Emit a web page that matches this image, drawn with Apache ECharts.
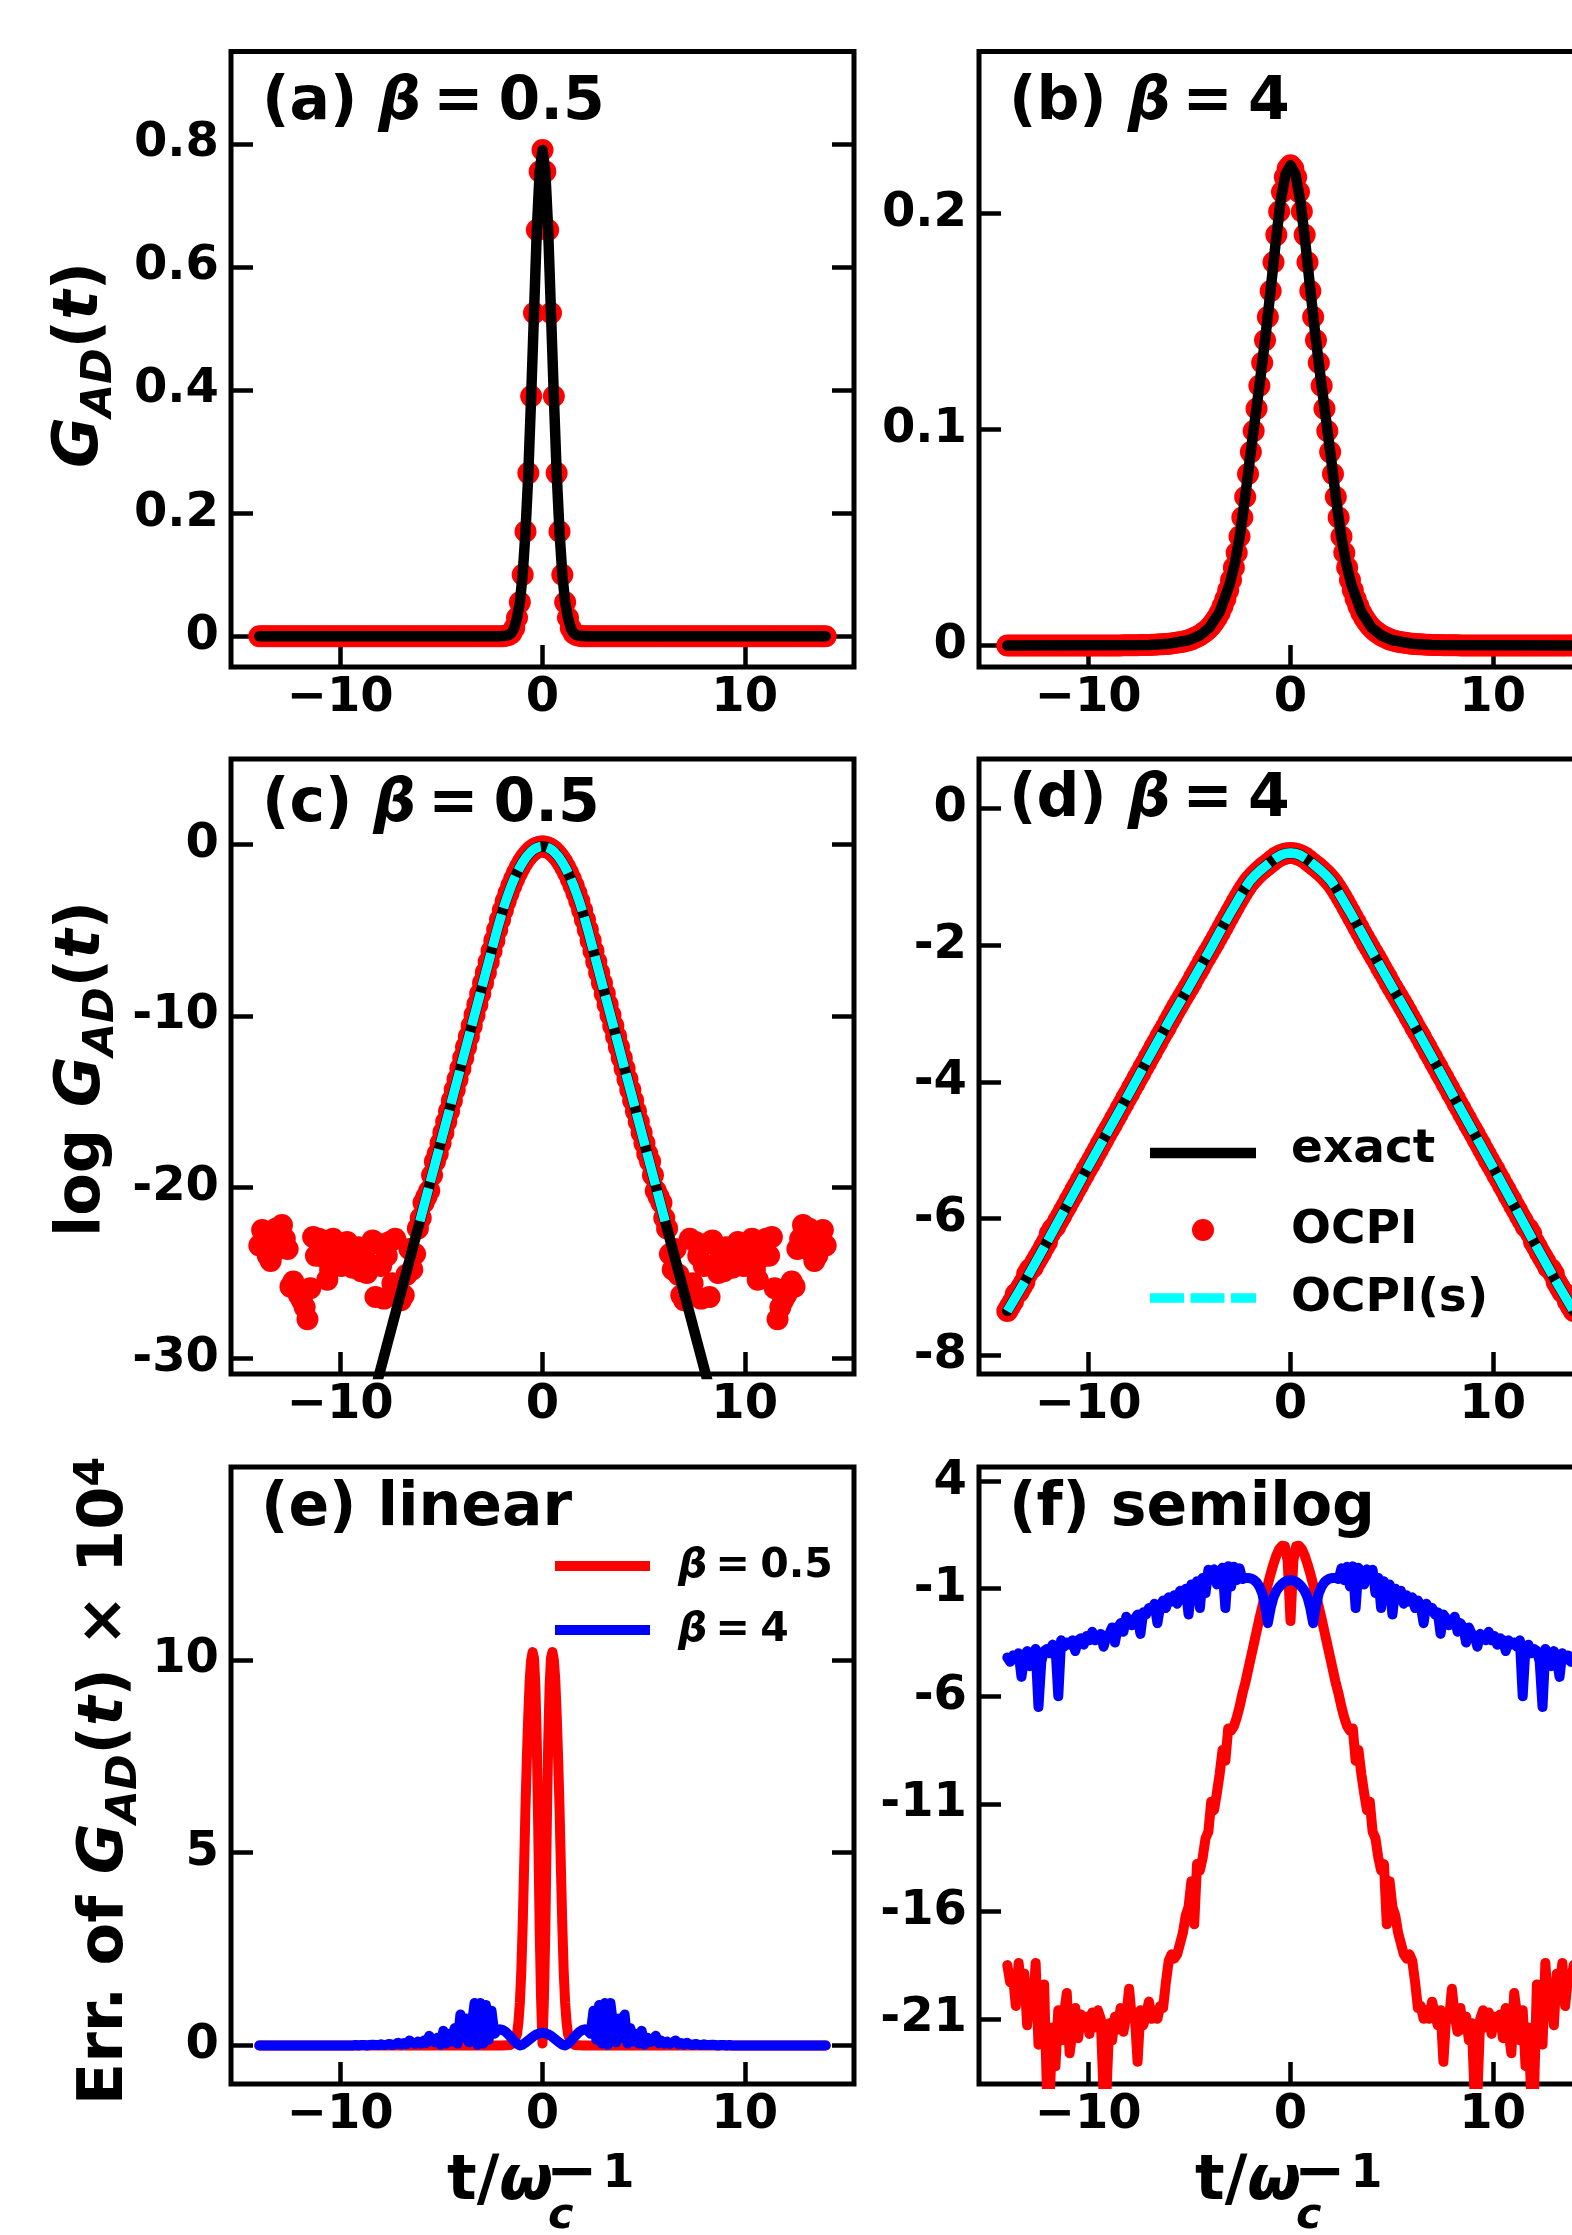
<!DOCTYPE html>
<html>
<head>
<meta charset="utf-8">
<script src="https://cdn.jsdelivr.net/npm/echarts@6/dist/echarts.min.js"></script>
<style>
  html, body { margin: 0; padding: 0; background: #ffffff; }
  #chart { width: 1572px; height: 2235px; }
</style>
</head>
<body>
<div id="chart"></div>
<script>
// ---------------------------------------------------------------------------
// Axis limits and tick labels
// ---------------------------------------------------------------------------
const tRange = [-15.4, 15.4];
const tTicks = [-10, 0, 10];
const yTicksA = [0, 0.2, 0.4, 0.6, 0.8];
const yTicksB = [0, 0.1, 0.2];
const yTicksC = [0, -10, -20, -30];
const yTicksD = [0, -2, -4, -6, -8];
const yTicksE = [0, 5, 10];
const yTicksF = [4, -1, -6, -11, -16, -21];

// Sampling times of the OCPI data for t >= 0 (step 0.14, up to t = 14).
// G_AD(t) and its errors are even in t, so only the t >= 0 half is stored.
const tStep = 0.14;
const tSamples = Array.from({ length: 101 }, (_, i) => +(i * tStep).toFixed(2));

// ---------------------------------------------------------------------------
// (a) beta = 0.5, linear: OCPI samples and exact curve
// ---------------------------------------------------------------------------
const ocpiA = [
  0.79, 0.755, 0.66, 0.525, 0.39, 0.265, 0.17, 0.10, 0.055, 0.03,
  0.013, 0.005, 0.002, 0.0007, 0, 0, 0, 0, 0, 0,
  0, 0, 0, 0, 0, 0, 0, 0, 0, 0,
  0, 0, 0, 0, 0, 0, 0, 0, 0, 0,
  0, 0, 0, 0, 0, 0, 0, 0, 0, 0,
  0, 0, 0, 0, 0, 0, 0, 0, 0, 0,
  0, 0, 0, 0, 0, 0, 0, 0, 0, 0,
  0, 0, 0, 0, 0, 0, 0, 0, 0, 0,
  0, 0, 0, 0, 0, 0, 0, 0, 0, 0,
  0, 0, 0, 0, 0, 0, 0, 0, 0, 0,
  0
];
const exactA = [
  [0, 0.79], [0.14, 0.755], [0.28, 0.66], [0.42, 0.525], [0.56, 0.39],
  [0.7, 0.265], [0.84, 0.17], [0.98, 0.10], [1.12, 0.055], [1.26, 0.03],
  [1.4, 0.013], [1.54, 0.005], [1.68, 0.002], [1.82, 0.0007], [2.2, 0], [14, 0]
];

// ---------------------------------------------------------------------------
// (b) beta = 4, linear
// ---------------------------------------------------------------------------
const ocpiB = [
  0.2223, 0.2208, 0.2168, 0.2099, 0.2009, 0.1901, 0.1774, 0.1641, 0.1521, 0.1413,
  0.1309, 0.1202, 0.1096, 0.0993, 0.0895, 0.0794, 0.0687, 0.0592, 0.0504, 0.0429,
  0.0361, 0.0303, 0.0255, 0.0215, 0.0181, 0.0151, 0.0128, 0.0108, 0.0091, 0.0077,
  0.0066, 0.0056, 0.0047, 0.0040, 0.0034, 0.0028, 0.0024, 0.0020, 0.0017, 0.0015,
  0.0013, 0.0011, 0.0009, 0.0008, 0.0006, 0.0005, 0.0005, 0.0004, 0.0003, 0.0003,
  0.0002, 0.0002, 0.0002, 0.0002, 0.0001, 0.0001, 0.0001, 0.0001, 0.0001, 0.0001,
  0, 0, 0, 0, 0, 0, 0, 0, 0, 0,
  0, 0, 0, 0, 0, 0, 0, 0, 0, 0,
  0, 0, 0, 0, 0, 0, 0, 0, 0, 0,
  0, 0, 0, 0, 0, 0, 0, 0, 0, 0,
  0
];
const exactB = [
  [0, 0.2223], [0.25, 0.2180], [0.5, 0.2050], [0.75, 0.1850], [1, 0.1630],
  [1.25, 0.1420], [1.5, 0.1230], [1.75, 0.1050], [2, 0.0870], [2.25, 0.0680],
  [2.5, 0.0510], [2.75, 0.0380], [3, 0.0285], [3.5, 0.0155], [4, 0.0083],
  [4.5, 0.0045], [5, 0.0025], [6, 0.0008], [7, 0.0002], [14, 0]
];

// ---------------------------------------------------------------------------
// (c) beta = 0.5, log G_AD(t)
// ---------------------------------------------------------------------------
const ocpiLogC = [
  -0.10, -0.12, -0.18, -0.27, -0.40, -0.58, -0.78, -1.03, -1.32, -1.64,
  -2.00, -2.40, -2.84, -3.31, -3.83, -4.38, -4.97, -5.59, -6.21, -6.84,
  -7.46, -8.08, -8.71, -9.33, -9.95, -10.58, -11.20, -11.82, -12.45, -13.07,
  -13.69, -14.31, -14.94, -15.56, -16.18, -16.81, -17.43, -18.05, -18.50, -19.30,
  -20.20, -20.55, -20.90, -21.80, -22.40, -23.90, -24.80, -23.60, -25.10, -26.30,
  -26.60, -26.40, -23.00, -25.60, -23.20, -24.00, -26.50, -24.60, -23.30, -26.40,
  -23.10, -24.50, -25.00, -23.90, -24.90, -23.50, -24.00, -24.70, -23.60, -23.20,
  -23.70, -24.60, -23.90, -24.30, -23.00, -24.80, -25.40, -24.10, -23.40, -23.00,
  -24.00, -22.90, -25.90, -27.70, -27.00, -26.60, -26.30, -26.00, -25.50, -25.80,
  -23.60, -23.00, -22.20, -23.30, -22.40, -23.80, -24.30, -24.00, -23.20, -22.50,
  -23.40
];
const exactLogC = [
  [0, -0.10], [0.14, -0.12], [0.28, -0.18], [0.42, -0.27], [0.56, -0.40],
  [0.7, -0.58], [0.84, -0.78], [0.98, -1.03], [1.12, -1.32], [1.26, -1.64],
  [1.4, -2.00], [1.54, -2.40], [1.68, -2.84], [1.82, -3.31], [1.96, -3.83],
  [2.1, -4.38], [2.24, -4.97], [2.5, -6.12], [3, -8.35], [4, -12.80],
  [5, -17.25], [6, -21.70], [7, -26.15], [8, -30.60], [9, -35.05]
];
const smoothLogC = [
  [0, -0.10], [0.14, -0.12], [0.28, -0.18], [0.42, -0.27], [0.56, -0.40],
  [0.7, -0.58], [0.84, -0.78], [0.98, -1.03], [1.12, -1.32], [1.26, -1.64],
  [1.4, -2.00], [1.54, -2.40], [1.68, -2.84], [1.82, -3.31], [1.96, -3.83],
  [2.1, -4.38], [2.24, -4.97], [2.5, -6.12], [3, -8.35], [4, -12.80],
  [5, -17.25], [6, -21.70], [6.06, -21.98]
];

// ---------------------------------------------------------------------------
// (d) beta = 4, log G_AD(t)
// ---------------------------------------------------------------------------
const ocpiLogD = [
  -0.653, -0.656, -0.664, -0.678, -0.697, -0.721, -0.751, -0.785, -0.818, -0.850,
  -0.883, -0.920, -0.960, -1.003, -1.048, -1.100, -1.163, -1.228, -1.298, -1.368,
  -1.443, -1.518, -1.593, -1.668, -1.743, -1.820, -1.893, -1.968, -2.040, -2.11,
  -2.18, -2.25, -2.33, -2.40, -2.47, -2.55, -2.62, -2.69, -2.76, -2.83,
  -2.90, -2.97, -3.05, -3.12, -3.20, -3.27, -3.34, -3.42, -3.49, -3.57,
  -3.64, -3.72, -3.79, -3.87, -3.94, -4.02, -4.09, -4.17, -4.24, -4.32,
  -4.39, -4.47, -4.54, -4.62, -4.69, -4.76, -4.84, -4.91, -4.99, -5.06,
  -5.14, -5.21, -5.28, -5.36, -5.43, -5.51, -5.58, -5.66, -5.73, -5.81,
  -5.88, -5.96, -6.03, -6.11, -6.15, -6.22, -6.34, -6.41, -6.49, -6.56,
  -6.63, -6.71, -6.74, -6.81, -6.93, -7.00, -7.07, -7.10, -7.21, -7.28,
  -7.35
];
const exactLogD = [
  [0, -0.653], [0.25, -0.662], [0.5, -0.688], [0.75, -0.733], [1, -0.788],
  [1.25, -0.848], [1.5, -0.910], [1.75, -0.979], [2, -1.060], [2.25, -1.168],
  [2.5, -1.292], [2.75, -1.420], [3, -1.545], [3.5, -1.81], [4, -2.08],
  [5, -2.60], [6, -3.11], [7, -3.64], [8, -4.18], [9, -4.71],
  [10, -5.24], [11, -5.78], [12, -6.32], [13, -6.85], [14, -7.35]
];
// OCPI(s) coincides with the exact result at plotting accuracy for beta = 4
const smoothLogD = exactLogD;

// ---------------------------------------------------------------------------
// (e) error x 1e4, linear scale
// ---------------------------------------------------------------------------
const errLinB05 = [
  [0, 0.05], [0.07, 1.2], [0.14, 3.0], [0.21, 5.6], [0.28, 7.8], [0.35, 9.3],
  [0.42, 10.05], [0.49, 10.2], [0.56, 10.0], [0.63, 9.5], [0.7, 8.6], [0.77, 7.5],
  [0.84, 6.2], [0.91, 4.6], [0.98, 3.1], [1.05, 1.9], [1.12, 1.1], [1.19, 0.6],
  [1.26, 0.3], [1.4, 0.08], [1.6, 0.01], [2, 0], [14, 0]
];
const errLinB4 = [
  0.33, 0.32, 0.29, 0.25, 0.19, 0.13, 0.07, 0.02, 0.00, 0.04,
  0.11, 0.20, 0.28, 0.35, 0.40, 0.42, 0.38, 0.30, 0.90, 0.15,
  1.05, 0.05, 1.10, 0.02, 1.10, 0.50, 0.08, 0.70, 0.20, 0.80,
  0.05, 0.45, 0.10, 0.30, 0.05, 0.38, 0.02, 0.20, 0.08, 0.15,
  0.25, 0.06, 0.12, 0.05, 0.10, 0.04, 0.08, 0.13, 0.03, 0.06,
  0.02, 0.07, 0.03, 0.01, 0.04, 0.02, 0.01, 0.03, 0.01, 0.01,
  0.02, 0.01, 0.00, 0.01, 0.01, 0.00, 0.01, 0.00, 0.00, 0.00,
  0, 0, 0, 0, 0, 0, 0, 0, 0, 0,
  0, 0, 0, 0, 0, 0, 0, 0, 0, 0,
  0, 0, 0, 0, 0, 0, 0, 0, 0, 0,
  0
];

// ---------------------------------------------------------------------------
// (f) error x 1e4, semilog scale
// ---------------------------------------------------------------------------
const errLogB05 = [
  -2.5, 0.3, 0.98, 1.0, 0.85, 0.55, 0.15, -0.3, -0.8, -1.3,
  -1.85, -2.4, -3.0, -3.6, -4.2, -4.8, -5.4, -5.9, -6.5, -7.0,
  -7.4, -7.6, -7.5, -9.0, -8.5, -9.6, -10.5, -11.3, -10.9, -12.3,
  -12.6, -13.5, -14.1, -13.8, -16.6, -14.6, -15.8, -16.2, -17.0, -17.5,
  -18.0, -18.2, -18.0, -18.3, -19.3, -20.5, -20.4, -21.0, -20.6, -21.0,
  -20.2, -20.8, -21.3, -20.6, -23.0, -20.8, -21.0, -19.6, -20.9, -21.6,
  -20.5, -21.5, -20.9, -22.0, -21.2, -24.5, -24.5, -21.0, -20.6, -21.4,
  -20.7, -21.7, -20.9, -21.2, -20.8, -21.9, -20.5, -21.6, -22.6, -19.8,
  -20.8, -22.0, -20.6, -23.2, -21.4, -24.5, -24.5, -19.4, -21.0, -22.2,
  -18.4, -20.6, -19.8, -21.3, -18.9, -19.6, -18.4, -20.4, -19.0, -19.3,
  -18.5
];
const errLogB4 = [
  -0.6, -0.62, -0.68, -0.78, -0.92, -1.1, -1.4, -1.9, -2.6, -1.8,
  -1.2, -0.9, -0.7, -0.58, -0.52, -0.5, -0.5, -0.55, -0.05, -0.6,
  0.02, -0.9, 0.04, -1.9, -0.02, -0.25, -0.8, -0.1, -0.5, -0.12,
  -1.2, -0.5, -1.9, -0.65, -0.95, -0.8, -2.2, -1.0, -1.5, -1.1,
  -1.7, -1.3, -1.6, -1.4, -1.9, -1.55, -1.8, -2.6, -1.7, -2.0,
  -1.9, -2.2, -2.1, -3.1, -2.2, -2.4, -2.7, -2.5, -2.3, -3.0,
  -2.6, -2.8, -3.5, -2.8, -3.1, -3.2, -3.7, -3.1, -3.3, -3.4,
  -3.0, -3.4, -3.2, -3.6, -3.3, -3.4, -3.9, -3.4, -3.6, -3.5,
  -3.7, -3.4, -6.0, -3.7, -3.6, -4.0, -3.8, -3.9, -4.4, -6.5,
  -3.8, -4.0, -4.6, -3.9, -4.2, -5.1, -4.0, -4.3, -4.1, -4.4,
  -4.2
];

// ---------------------------------------------------------------------------
// Helpers: build the full -t..t series from the stored t >= 0 half
// ---------------------------------------------------------------------------
function evenSamples(half) {
  if (half.length !== tSamples.length) throw new Error('half length ' + half.length);
  const out = [];
  for (let i = half.length - 1; i > 0; i--) out.push([-tSamples[i], half[i]]);
  for (let i = 0; i < half.length; i++) out.push([tSamples[i], half[i]]);
  return out;
}
function evenPairs(pairs) {
  const out = [];
  for (let i = pairs.length - 1; i > 0; i--) out.push([-pairs[i][0], pairs[i][1]]);
  return out.concat(pairs);
}

const FONT = 'DejaVu Sans';
const BLACK = '#000000', RED = '#ff0000', BLUE = '#0000ff', CYAN = '#00ffff';
const TICK_FONT = 48;
const MID = 0.35; // distance from the text middle line down to the baseline, in em

const panels = [
  { left: 231, top: 51.5, height: 615.5, yRange: [-0.05, 0.95], yTicks: yTicksA },
  { left: 979, top: 51.5, height: 615.5, yRange: [-0.01, 0.275], yTicks: yTicksB },
  { left: 231, top: 759, height: 615, yRange: [-30.9, 5.0], yTicks: yTicksC },
  { left: 979, top: 759, height: 615, yRange: [-8.27, 0.72], yTicks: yTicksD },
  { left: 231, top: 1467, height: 617, yRange: [-1, 15], yTicks: yTicksE },
  { left: 979, top: 1467, height: 617, yRange: [-24.03, 4.66], yTicks: yTicksF }
];
const PANEL_W = 623;

const labelFont = { color: BLACK, fontFamily: FONT, fontWeight: 'bold', fontSize: TICK_FONT };
const tickStyle = { color: BLACK, width: 4.5 };
const minusFmt = v => (v < 0 ? '\u2212' + Math.abs(v) : String(v));

const grids = panels.map(p => ({
  left: p.left, top: p.top, width: PANEL_W, height: p.height,
  show: true, borderColor: BLACK, borderWidth: 5, backgroundColor: 'transparent',
  containLabel: false, outerBoundsMode: 'none'
}));

const xAxes = panels.map((p, k) => ({
  type: 'value', gridIndex: k, min: tRange[0], max: tRange[1], position: 'bottom',
  axisLine: { show: false, onZero: false },
  splitLine: { show: false },
  axisTick: { show: true, inside: true, length: 22, lineStyle: tickStyle, customValues: tTicks },
  axisLabel: Object.assign({ show: true, margin: 8, customValues: tTicks, formatter: minusFmt }, labelFont)
}));

const yAxes = [];
panels.forEach((p, k) => {
  yAxes.push({
    type: 'value', gridIndex: k, min: p.yRange[0], max: p.yRange[1], position: 'left',
    axisLine: { show: false, onZero: false },
    splitLine: { show: false },
    axisTick: { show: true, inside: true, length: 22, lineStyle: tickStyle, customValues: p.yTicks },
    axisLabel: Object.assign({ show: true, margin: 12, customValues: p.yTicks }, labelFont)
  });
  yAxes.push({
    type: 'value', gridIndex: k, min: p.yRange[0], max: p.yRange[1], position: 'right',
    axisLine: { show: false, onZero: false },
    splitLine: { show: false },
    axisTick: { show: true, inside: true, length: 22, lineStyle: tickStyle, customValues: p.yTicks },
    axisLabel: { show: false }
  });
});

function dots(k, data) {
  return {
    type: 'scatter', xAxisIndex: k, yAxisIndex: 2 * k, data: data,
    symbol: 'circle', symbolSize: 22, itemStyle: { color: RED, opacity: 1 },
    silent: true, z: 2
  };
}
function curve(k, data, color, width, dash, z) {
  return {
    type: 'line', xAxisIndex: k, yAxisIndex: 2 * k, data: data,
    symbol: 'none', showSymbol: false, silent: true, z: z || 3,
    lineStyle: { color: color, width: width, type: dash || 'solid', cap: dash ? 'butt' : 'round', join: 'round' }
  };
}
const DASH = [34, 6.5];

const series = [
  dots(0, evenSamples(ocpiA)),
  curve(0, evenPairs(exactA), BLACK, 10.5),

  dots(1, evenSamples(ocpiB)),
  curve(1, evenPairs(exactB), BLACK, 10.5),

  dots(2, evenSamples(ocpiLogC)),
  curve(2, evenPairs(exactLogC), BLACK, 10.5),
  curve(2, evenPairs(smoothLogC), CYAN, 9.5, DASH, 4),

  dots(3, evenSamples(ocpiLogD)),
  curve(3, evenPairs(exactLogD), BLACK, 10.5),
  curve(3, evenPairs(smoothLogD), CYAN, 9.5, DASH, 4),

  curve(4, evenPairs(errLinB05), RED, 10),
  curve(4, evenSamples(errLinB4), BLUE, 10, null, 4),

  curve(5, evenSamples(errLogB05), RED, 10),
  curve(5, evenSamples(errLogB4), BLUE, 10, null, 4)
];

// ---------------------------------------------------------------------------
// Text: panel tags, axis names, legends
// ---------------------------------------------------------------------------
function richSet(F) {
  const f = Math.round(F * 0.7);
  const base = { fontFamily: FONT, fontWeight: 'bold', fill: BLACK, verticalAlign: 'middle' };
  return {
    n: Object.assign({}, base, { fontSize: F, lineHeight: F }),
    i: Object.assign({}, base, { fontSize: F, lineHeight: F, fontStyle: 'italic' }),
    sub: Object.assign({}, base, { fontSize: f, lineHeight: F, fontStyle: 'italic', padding: [Math.round(F * 0.6), 0, 0, 0] }),
    sup: Object.assign({}, base, { fontSize: f, lineHeight: F, padding: [0, 0, Math.round(F * 0.43), 0] }),
    m: Object.assign({}, base, { fontSize: Math.round(F * 1.35), lineHeight: F })
  };
}
// x, baseline: left end of the text and its baseline
function textAt(x, baseline, text, F, opts) {
  opts = opts || {};
  return {
    type: 'text', x: x, y: baseline - MID * F, z: 100, silent: true,
    style: {
      text: text, fill: BLACK, fontFamily: FONT, fontWeight: 'bold', fontSize: F,
      fontStyle: opts.italic ? 'italic' : 'normal',
      align: 'left', verticalAlign: 'middle', rich: richSet(F)
    }
  };
}
// vertical axis name, reading upwards, centred on (cx, cy)
function verticalName(cx, cy, text, F) {
  return {
    type: 'text', x: cx, y: cy, rotation: Math.PI / 2, z: 100, silent: true,
    style: {
      text: text, fill: BLACK, fontFamily: FONT, fontWeight: 'bold', fontSize: F,
      align: 'center', verticalAlign: 'middle', rich: richSet(F)
    }
  };
}
const AXIS_FONT = 62;
const TAG_FONT = 60;
// thin spaces around "=" as in typeset math
const EQ = '\u2009=\u2005';

function timeName(x0) {
  return [
    textAt(x0, 2205, '{n|t/}{i|\u03c9}', AXIS_FONT),
    textAt(x0 + 99, 2191, '{m|\u2212}{n|\u200a1}', 46),
    textAt(x0 + 101, 2232, 'c', 43, { italic: true })
  ];
}
function tag(x, baseline, letter, beta) {
  return textAt(x, baseline, '{n|(' + letter + ') }{i|\u03b2}{n|' + EQ + beta + '}', TAG_FONT);
}

const graphics = [
  tag(262, 124.5, 'a', '0.5'),
  tag(1009, 124.5, 'b', '4'),
  tag(262, 826, 'c', '0.5'),
  tag(1009, 821.5, 'd', '4'),
  textAt(261, 1530, '(e) linear', TAG_FONT),
  textAt(1009, 1530, '(f) semilog', TAG_FONT),

  verticalName(81, 365, '{i|G}{sub|AD}{n|(}{i|t}{n|)}', AXIS_FONT),
  verticalName(83, 1069, '{n|log }{i|G}{sub|AD}{n|(}{i|t}{n|)}', AXIS_FONT),
  verticalName(106, 1781, '{n|Err. of }{i|G}{sub|AD}{n|(}{i|t}{n|) \u00d7 10}{sup|4}', AXIS_FONT)
].concat(timeName(447), timeName(1195));

// legend of panel (d)
graphics.push(
  { type: 'line', z: 100, silent: true, shape: { x1: 1150, y1: 1153, x2: 1256, y2: 1153 }, style: { stroke: BLACK, lineWidth: 10.5 } },
  { type: 'circle', z: 100, silent: true, shape: { cx: 1203, cy: 1230, r: 11 }, style: { fill: RED } },
  { type: 'line', z: 100, silent: true, shape: { x1: 1150, y1: 1298, x2: 1256, y2: 1298 }, style: { stroke: CYAN, lineWidth: 9.5, lineDash: DASH } },
  textAt(1291, 1166, 'exact', 47),
  textAt(1291, 1247, 'OCPI', 47),
  textAt(1291, 1315, 'OCPI(s)', 47)
);
// legend of panel (e)
graphics.push(
  { type: 'line', z: 100, silent: true, shape: { x1: 555, y1: 1566, x2: 650, y2: 1566 }, style: { stroke: RED, lineWidth: 10 } },
  { type: 'line', z: 100, silent: true, shape: { x1: 555, y1: 1630, x2: 650, y2: 1630 }, style: { stroke: BLUE, lineWidth: 10 } },
  textAt(678, 1581, '{i|\u03b2}{n|' + EQ + '0.5}', 41),
  textAt(678, 1645, '{i|\u03b2}{n|' + EQ + '4}', 41)
);

const chart = echarts.init(document.getElementById('chart'), null, { renderer: 'canvas', width: 1572, height: 2235 });
chart.setOption({
  animation: false,
  backgroundColor: '#ffffff',
  grid: grids,
  xAxis: xAxes,
  yAxis: yAxes,
  series: series,
  graphic: { elements: graphics }
});
</script>
</body>
</html>
